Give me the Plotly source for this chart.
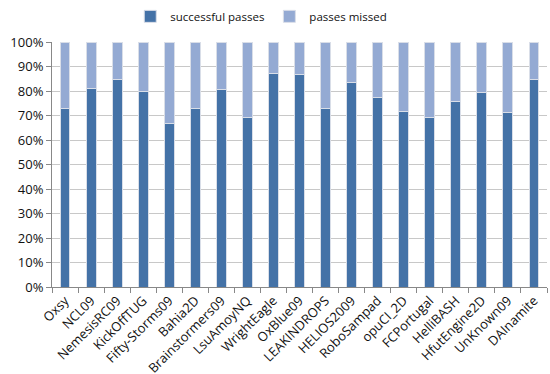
import plotly.graph_objects as go

teams = ["Oxsy", "NCL09", "NemesisRC09", "KickOffTUG", "Fifty-Storms09", "Bahia2D",
         "Brainstormers09", "LsuAmoyNQ", "WrightEagle", "OxBlue09", "LEAKINDROPS",
         "HELIOS2009", "RoboSampad", "opuCI_2D", "FCPortugal", "HelliBASH",
         "HfutEngine2D", "UnKnown09", "DAInamite"]
successful = [72.7, 80.9, 84.5, 79.6, 66.6, 72.7, 80.5, 69.1, 87.0, 86.7, 72.7,
              83.5, 77.2, 71.5, 69.2, 75.6, 79.2, 71.3, 84.5]
missed = [round(100 - v, 1) for v in successful]
yticks = list(range(0, 101, 10))

fig = go.Figure()
fig.add_trace(go.Bar(x=teams, y=successful, name="successful passes",
                     marker=dict(color="#4472A7", line=dict(color="#D9DEE8", width=1))))
fig.add_trace(go.Bar(x=teams, y=missed, name="passes missed",
                     marker=dict(color="#94AAD3", line=dict(color="#D9DEE8", width=1))))

fig.update_layout(
    barmode="stack",
    bargap=0.62,
    width=550, height=374,
    margin=dict(l=52, r=3, t=42, b=87),
    plot_bgcolor="white", paper_bgcolor="white",
    font=dict(family="Open Sans", size=11, color="#111"),
    legend=dict(orientation="h", x=0.475, xanchor="center", xref="container",
                y=0.995, yanchor="top", yref="container",
                font=dict(size=11.5), itemwidth=30, traceorder="normal"),
    showlegend=True,
)
fig.update_xaxes(tickangle=-45, showline=True, linecolor="#888", ticks="outside",
                 tickson="boundaries", ticklen=5, tickcolor="#888",
                 tickfont=dict(size=13), showgrid=False, automargin=False)
fig.update_yaxes(range=[0, 100], tickvals=yticks, ticktext=[f"{v}%" for v in yticks],
                 showline=True, linecolor="#888", ticks="outside", ticklen=5,
                 tickcolor="#888", gridcolor="#C8C8C8", gridwidth=1,
                 tickfont=dict(size=13), zeroline=False, automargin=False)
fig.write_html("out.html")
